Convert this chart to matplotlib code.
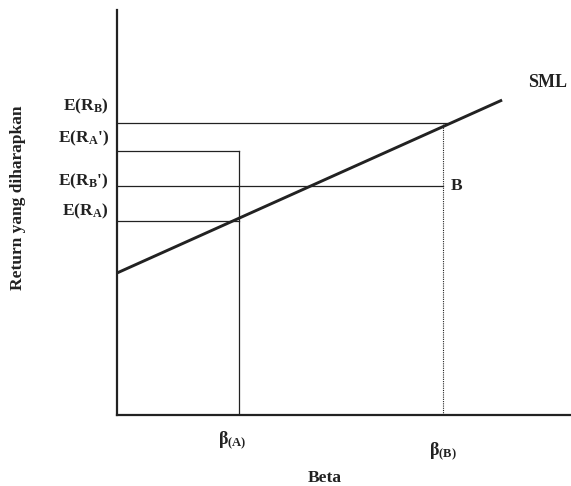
import numpy as np
import matplotlib as mp
import matplotlib.pyplot as pp

mp.rcParams.update({
    'font.family': 'Liberation Serif',
    'font.weight': 'bold',
    'mathtext.fontset': 'custom',
    'mathtext.rm': 'Liberation Serif:bold',
    'mathtext.it': 'Liberation Serif:bold',
})

# data (beta units / return units)
rf = 14.2
sml_slope = 9.15
sml_end = 1.89
beta_A = 0.6
beta_B = 1.6
ER_A = 19.4
ER_A_star = 26.4
ER_B_star = 22.9
ER_B = 29.2

ink = '#222222'

fig = pp.figure(figsize=(5.71, 4.86), dpi=100)
ax = fig.add_axes([117/571, 71/486, 454/571, 405/486])
ax.set_xlim(0, 454/203.75)
ax.set_ylim(0, 40.5)
for s in ('top', 'right'):
    ax.spines[s].set_visible(False)
for s in ('left', 'bottom'):
    ax.spines[s].set_linewidth(1.6)
    ax.spines[s].set_color(ink)
ax.set_xticks([])
ax.set_yticks([])

# SML
b = np.array([0, sml_end])
ax.plot(b, rf + sml_slope*b, color=ink, lw=2.1, solid_capstyle='butt')

# guide lines
ax.plot([0, beta_B + 0.02], [ER_B, ER_B], color=ink, lw=0.9)
ax.plot([0, beta_A], [ER_A_star, ER_A_star], color=ink, lw=0.9)
ax.plot([beta_A, beta_A], [0, ER_A_star], color=ink, lw=0.9)
ax.plot([0, beta_B], [ER_B_star, ER_B_star], color=ink, lw=0.9)
ax.plot([0, beta_A], [ER_A, ER_A], color=ink, lw=0.9)
ax.plot([beta_B, beta_B], [0, ER_B], color=ink, lw=0.8, ls=(0, (1, 1)))

# y-side labels
labs = [('E(R$_\\mathrm{B}$)', ER_B, 12),
        ("E(R$_\\mathrm{A}$')", ER_A_star, 9),
        ("E(R$_\\mathrm{B}$')", ER_B_star, 3),
        ('E(R$_\\mathrm{A}$)', ER_A, 7)]
for t, v, dy in labs:
    ax.annotate(t, (0, v), xytext=(-6, dy), textcoords='offset points',
                ha='right', va='center', fontsize=12.5, color=ink, annotation_clip=False)

ax.annotate('$\\beta_{\\mathrm{(A)}}$', (beta_A, 0), xytext=(-5, -18), textcoords='offset points',
            ha='center', va='center', fontsize=13, color=ink, annotation_clip=False)
ax.annotate('$\\beta_{\\mathrm{(B)}}$', (beta_B, 0), xytext=(0, -26), textcoords='offset points',
            ha='center', va='center', fontsize=13, color=ink, annotation_clip=False)
ax.annotate('B', (beta_B, ER_B_star), xytext=(10, 0), textcoords='offset points',
            ha='center', va='center', fontsize=12.5, color=ink)
ax.annotate('SML', (sml_end, rf + sml_slope*sml_end), xytext=(33, 13), textcoords='offset points',
            ha='center', va='center', fontsize=13, color=ink, annotation_clip=False)

fig.text(325/571, 1 - 478/486, 'Beta', ha='center', va='center', fontsize=12.5, color=ink)
fig.text(18/571, 1 - 198/486, 'Return yang diharapkan', ha='center', va='center',
         rotation=90, fontsize=12.5, color=ink)

fig.savefig('out.png', dpi=100)
